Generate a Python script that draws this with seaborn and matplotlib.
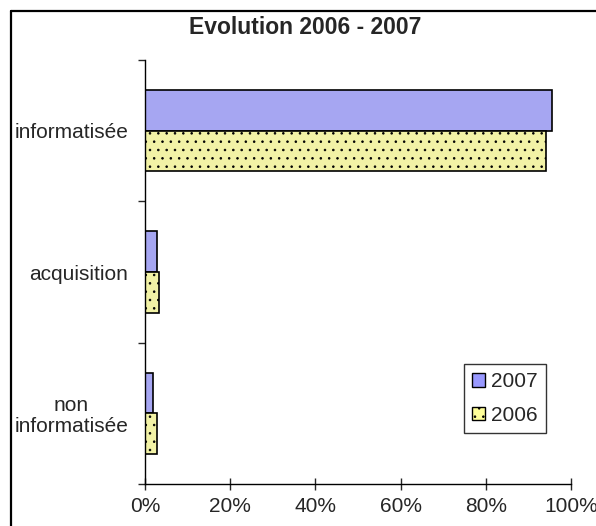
import pandas as pd
import matplotlib.pyplot as plt
import seaborn as sns
from matplotlib.lines import Line2D
from matplotlib.patches import Patch
from matplotlib.ticker import PercentFormatter

# données
categories = ['informatisée', 'acquisition', 'non\ninformatisée']
annees = ['2007', '2006']
valeurs_2007 = [95.5, 2.9, 1.9]
valeurs_2006 = [94.1, 3.4, 2.9]

couleurs = {'2007': '#9999FF', '2006': '#FFFF99'}

df = pd.DataFrame({
    'categorie': categories * 2,
    'annee': ['2007'] * 3 + ['2006'] * 3,
    'valeur': valeurs_2007 + valeurs_2006,
})

sns.set_style('white')
plt.rcParams['font.family'] = ['Liberation Sans', 'DejaVu Sans']
plt.rcParams['hatch.linewidth'] = 0.6

fig = plt.figure(figsize=(5.96, 5.26), dpi=100)
ax = fig.add_axes([145 / 596, 42 / 526, 426 / 596, 424 / 526])

sns.barplot(data=df, y='categorie', x='valeur', hue='annee', hue_order=annees,
            order=categories, orient='h', palette=couleurs, width=0.575,
            edgecolor='black', linewidth=1.2, ax=ax, legend=False)

# motif pointillé pour 2006
for bar in ax.containers[1]:
    bar.set_hatch('..')

ax.set_xlim(0, 100)
ax.set_ylim(2.5, -0.5)
ax.xaxis.set_major_formatter(PercentFormatter(decimals=0))
ax.set_xticks([0, 20, 40, 60, 80, 100])
ax.set_xlabel('')
ax.set_ylabel('')

ax.set_yticks([-0.5, 0.5, 1.5, 2.5], minor=True)
ax.tick_params(axis='y', which='major', length=0, pad=12, labelsize=15)
ax.tick_params(axis='y', which='minor', length=5, width=1, direction='out', left=True)
ax.tick_params(axis='x', length=8.6, width=1, direction='inout', bottom=True, pad=5, labelsize=15)
for lab in ax.get_yticklabels():
    lab.set_multialignment('center')
    lab.set_linespacing(1.1)

for s in ['top', 'right']:
    ax.spines[s].set_visible(False)
for s in ['left', 'bottom']:
    ax.spines[s].set_color('black')
    ax.spines[s].set_linewidth(1)

# légende
poignees = [Patch(facecolor=couleurs['2007'], edgecolor='black', label='2007'),
            Patch(facecolor=couleurs['2006'], edgecolor='black', hatch='..', label='2006')]
leg = ax.legend(handles=poignees, loc='upper left', bbox_to_anchor=(464 / 596, 1 - 364 / 526),
                bbox_transform=fig.transFigure, fontsize=15, frameon=True, fancybox=False,
                handlelength=0.6, handleheight=0.6, handletextpad=0.3, labelspacing=0.7,
                borderpad=0.4, borderaxespad=0)
leg.get_frame().set_edgecolor('black')
leg.get_frame().set_linewidth(1)

fig.text(305 / 596, 1 - 28 / 526, 'Evolution 2006 - 2007', ha='center', va='center',
         fontsize=16.5, fontweight='bold')

# cadre : seulement les bords gauche et haut sont visibles
x0, y0 = 11 / 596, 1 - 11 / 526
fig.add_artist(Line2D([x0, x0], [0, y0], transform=fig.transFigure, color='black', linewidth=1.6))
fig.add_artist(Line2D([x0, 1], [y0, y0], transform=fig.transFigure, color='black', linewidth=1.6))

plt.savefig('out.png', dpi=100)
